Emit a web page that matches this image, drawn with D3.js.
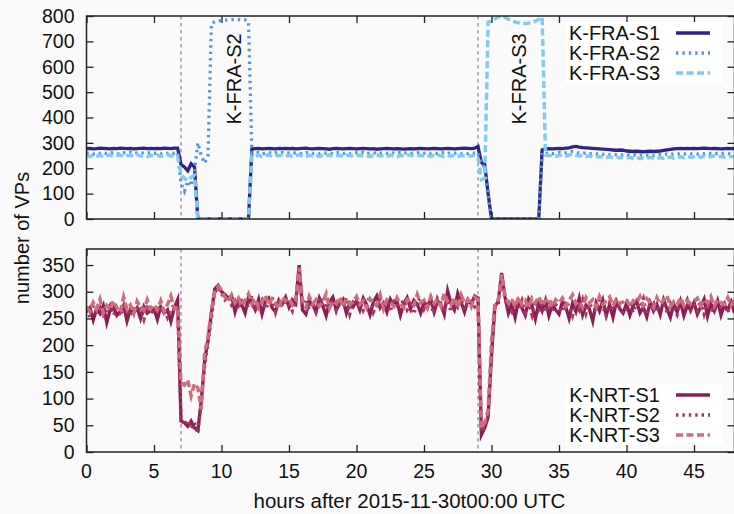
<!DOCTYPE html>
<html>
<head>
<meta charset="utf-8">
<script src="https://cdn.jsdelivr.net/npm/d3@7"></script>
<style>
body{margin:0;background:#fafafa;}
svg{display:block;font-family:"Liberation Sans",Arial,sans-serif;}
</style>
</head>
<body>
<svg id="chart" width="734" height="514"></svg>
<script>
// サンプル間隔 (時間)
var step = 0.25;

// K-FRA
var fra1 = [
277,278,276,277,279,278,277,276,278,277,279,278,277,278,276,277,278,279,277,278,
277,278,277,279,278,277,279,279,215,205,190,218,205,0,0,0,0,0,0,0,
0,0,0,0,0,0,0,0,0,276,277,278,276,277,278,277,276,278,277,278,
277,278,276,277,278,279,277,276,277,278,277,276,275,277,278,277,276,277,278,277,
276,277,278,277,276,277,275,276,277,278,277,276,277,276,275,276,277,276,277,278,
277,276,277,278,277,276,277,278,277,276,277,278,279,278,277,279,286,222,215,100,
0,0,0,0,0,0,0,0,0,0,0,0,0,0,0,272,276,277,276,277,
278,277,279,280,284,286,283,281,280,279,278,277,276,275,274,273,272,271,272,271,
268,267,266,267,266,265,266,267,266,267,268,270,272,274,276,277,278,277,278,277,
278,277,278,279,278,277,278,277,276,277,278,277,278];
var fra2 = [
258,262,256,261,259,263,257,260,262,258,255,261,259,263,257,260,258,262,259,261,
258,262,257,261,259,263,258,262,140,110,150,130,190,300,250,220,250,770,778,780,
782,784,785,786,785,786,784,785,778,262,258,262,256,260,263,257,261,259,262,258,
260,257,262,259,256,261,263,258,260,257,262,259,261,256,260,263,258,261,257,260,
261,258,263,257,260,262,256,259,261,258,262,260,257,263,259,261,258,260,262,257,
259,262,258,261,257,260,263,258,261,259,262,257,260,258,261,259,262,215,205,95,
0,0,0,0,0,0,0,0,0,0,0,0,0,0,0,262,258,261,257,260,
262,259,261,264,266,263,260,258,261,257,259,256,258,255,257,254,256,253,255,252,
254,251,253,250,252,254,251,253,250,252,255,253,256,254,257,255,258,256,259,257,
258,256,259,257,260,258,256,259,257,260,258,256,259];
var fra3 = [
250,246,252,248,251,245,249,253,247,250,252,246,249,251,247,253,248,250,246,251,
249,252,247,250,253,248,251,247,175,160,150,165,172,0,0,0,0,0,0,0,
0,0,0,0,0,0,0,0,0,250,248,252,246,250,253,247,251,249,252,248,
251,247,250,253,248,246,251,249,252,247,250,248,253,246,249,251,247,252,250,248,
249,252,247,250,246,251,253,248,250,247,252,249,246,251,248,250,253,247,249,251,
248,251,247,250,253,249,246,251,248,252,247,250,249,251,248,252,240,155,160,775,
780,788,796,800,795,787,782,777,773,771,770,772,775,780,786,795,252,249,251,247,
250,253,248,252,255,251,248,250,246,249,245,247,244,246,243,245,242,244,241,243,
240,243,239,242,238,241,239,243,240,238,242,239,241,244,240,243,245,242,246,243,
245,248,244,247,243,246,249,245,247,244,248,246,245];

// K-NRT
var nrt1 = [
262,270,247,268,259,274,242,266,271,256,264,275,245,267,261,270,250,272,260,265,
268,248,272,260,266,244,270,285,58,55,48,58,45,40,95,170,210,260,305,312,
300,295,288,292,262,284,276,260,290,279,266,286,258,281,288,270,262,283,277,290,
271,285,278,350,266,258,283,276,262,288,274,255,281,290,266,277,285,260,279,272,
283,266,288,276,257,281,292,270,279,262,286,275,282,256,278,289,268,284,277,260,
280,270,287,262,283,276,258,302,278,266,297,280,262,285,277,292,288,32,45,65,
180,272,282,335,290,260,278,252,283,270,256,286,274,249,279,264,284,255,276,266,
258,281,272,250,278,263,288,257,275,268,245,279,264,284,256,276,252,281,268,260,
278,256,274,283,260,271,253,280,264,276,257,285,268,252,277,262,282,255,274,266,
280,258,272,286,254,277,264,283,256,275,266,281,260];
var nrt2 = [
268,252,273,262,270,250,266,275,256,269,254,272,264,255,274,263,268,248,271,266,
258,273,263,270,252,268,275,270,65,50,60,45,55,35,100,160,205,250,298,308,
296,285,291,275,283,266,289,281,270,293,264,280,286,268,278,291,262,284,272,282,
277,264,284,340,279,287,267,280,262,283,290,268,278,285,264,281,271,289,258,280,
275,284,265,280,290,262,277,285,268,281,262,288,274,276,284,266,276,258,282,288,
268,283,274,259,288,279,268,284,262,281,271,286,266,278,282,272,282,38,48,70,
190,270,276,328,285,272,262,280,268,284,262,277,256,282,266,278,261,281,264,276,
270,262,283,272,255,279,266,285,259,277,270,263,286,272,255,279,265,283,270,259,
268,282,261,278,271,287,257,276,280,263,272,283,261,279,269,257,280,271,285,264,
275,265,284,258,278,270,261,281,272,279,260,283,268];
var nrt3 = [
272,263,280,268,286,260,274,266,283,270,262,290,267,275,259,282,270,265,285,268,
276,266,283,263,276,292,268,272,130,125,135,105,128,120,80,185,215,265,300,310,
303,290,282,294,279,288,273,284,296,277,286,270,281,293,275,287,279,268,290,283,
288,275,283,345,282,270,291,277,285,273,280,296,269,283,278,290,272,286,276,281,
291,276,283,270,287,279,274,294,268,285,280,273,289,277,270,286,281,275,295,279,
284,270,291,278,286,273,297,281,275,289,270,294,279,285,272,290,285,45,55,78,
205,278,285,332,292,279,287,272,290,276,284,271,288,279,291,274,283,288,272,285,
279,288,273,284,294,277,282,270,289,279,285,272,291,276,283,290,274,286,278,281,
286,272,283,279,291,274,287,280,270,289,277,284,293,272,281,276,289,274,283,278,
282,288,274,286,279,291,273,285,280,276,289,274,284];

var fraNames = ["K-FRA-S1","K-FRA-S2","K-FRA-S3"];
var nrtNames = ["K-NRT-S1","K-NRT-S2","K-NRT-S3"];
var xTicks = [0,5,10,15,20,25,30,35,40,45];
var fraTicks = [0,100,200,300,400,500,600,700,800];
var nrtTicks = [0,50,100,150,200,250,300,350];
var events = [7, 29];
// 上段の注記 (時間, 値)
var noteText = ["K-FRA-S2","K-FRA-S3"];
var noteHour = [10.9, 32];
var noteValue = [552, 552];

var svg = d3.select("#chart");
svg.append("rect").attr("width",734).attr("height",514).attr("fill","#fafafa");

var x = d3.scaleLinear().domain([0,48]).range([86.5,734.5]);
var styles = [
  {w:3.3, dash:null},
  {w:3.3, dash:"2.4,4"},
  {w:3.5, dash:"7,3.5"}
];

function panel(id, top, bottom, ymax, ticks, series, names, colors, legTop){
  var y = d3.scaleLinear().domain([0,ymax]).range([bottom,top]);
  var g = svg.append("g");
  g.append("clipPath").attr("id",id).append("rect")
    .attr("x",x(0)).attr("y",top).attr("width",x(48)-x(0)).attr("height",bottom-top);

  // イベント時刻の縦線
  g.selectAll(".ev").data(events).enter().append("line")
    .attr("x1",d=>x(d)).attr("x2",d=>x(d)).attr("y1",top).attr("y2",bottom)
    .attr("stroke","#aaa").attr("stroke-width",1.8).attr("stroke-dasharray","3.5,3.5");

  var line = d3.line().x((d,i)=>x(i*step)).y(d=>y(d));
  var lg = g.append("g").attr("clip-path","url(#"+id+")");
  series.forEach(function(s,k){
    lg.append("path").datum(s).attr("d",line).attr("fill","none")
      .attr("stroke",colors[k]).attr("stroke-width",styles[k].w)
      .attr("stroke-dasharray",styles[k].dash).attr("stroke-miterlimit",6);
  });

  // 軸 (目盛りは内向き、四辺)
  var tk = 7;
  g.append("g").attr("transform","translate(0,"+bottom+")")
    .call(d3.axisBottom(x).tickValues(xTicks).tickSizeInner(-tk).tickSizeOuter(0).tickFormat(""));
  g.append("g").attr("transform","translate(0,"+top+")")
    .call(d3.axisTop(x).tickValues(xTicks).tickSizeInner(-tk).tickSizeOuter(0).tickFormat(""));
  g.append("g").attr("transform","translate("+x(0)+",0)")
    .call(d3.axisLeft(y).tickValues(ticks).tickSizeInner(-tk).tickSizeOuter(0).tickPadding(12));
  g.append("g").attr("transform","translate("+x(48)+",0)")
    .call(d3.axisRight(y).tickValues(ticks).tickSizeInner(-tk).tickSizeOuter(0).tickFormat(""));
  g.selectAll(".domain").remove();
  g.selectAll(".tick line").attr("stroke","#222").attr("stroke-width",1.3);
  g.selectAll(".tick text").attr("font-size",19.5).attr("fill","#111")
    .attr("font-family","'Liberation Sans',Arial,sans-serif");
  g.append("rect").attr("x",x(0)).attr("y",top).attr("width",x(48)-x(0)).attr("height",bottom-top)
    .attr("fill","none").attr("stroke","#222").attr("stroke-width",1.5);

  // 凡例
  var leg = g.append("g");
  leg.append("rect").attr("x",565).attr("y",legTop).attr("width",158).attr("height",61).attr("fill","#fff");
  names.forEach(function(n,k){
    var cy = legTop + 11 + k*20;
    leg.append("text").attr("x",660).attr("y",cy).attr("dy","0.35em")
      .attr("text-anchor","end").attr("font-size",20).attr("fill","#111").text(n);
    leg.append("line").attr("x1",676).attr("x2",710).attr("y1",cy).attr("y2",cy)
      .attr("stroke",colors[k]).attr("stroke-width",styles[k].w)
      .attr("stroke-dasharray",styles[k].dash);
  });
  return y;
}

var yf = panel("clipF", 16, 219, 800, fraTicks, [fra1,fra2,fra3], fraNames,
  ["#2f2289","#5596da","#80ccee"], 22);
var yn = panel("clipN", 249, 452, 380, nrtTicks, [nrt1,nrt2,nrt3], nrtNames,
  ["#8a1f56","#a4375f","#d06c7e"], 384);

// 注記
noteText.forEach(function(t,k){
  svg.append("text").attr("transform","translate("+x(noteHour[k])+","+yf(noteValue[k])+") rotate(-90)")
    .attr("text-anchor","middle").attr("dy","0.35em").attr("font-size",20).attr("fill","#111").text(t);
});

// x 軸ラベル
svg.selectAll(".xl").data(xTicks).enter().append("text")
  .attr("x",d=>x(d)).attr("y",478).attr("text-anchor","middle")
  .attr("font-size",19.5).attr("fill","#111").text(d=>d);
svg.append("text").attr("x",x(24)-1).attr("y",508).attr("text-anchor","middle")
  .attr("font-size",20.5).attr("fill","#111").text("hours after 2015-11-30t00:00 UTC");
svg.append("text").attr("transform","translate(29,238) rotate(-90)")
  .attr("text-anchor","middle").attr("font-size",20).attr("fill","#111").text("number of VPs");
</script>
</body>
</html>
